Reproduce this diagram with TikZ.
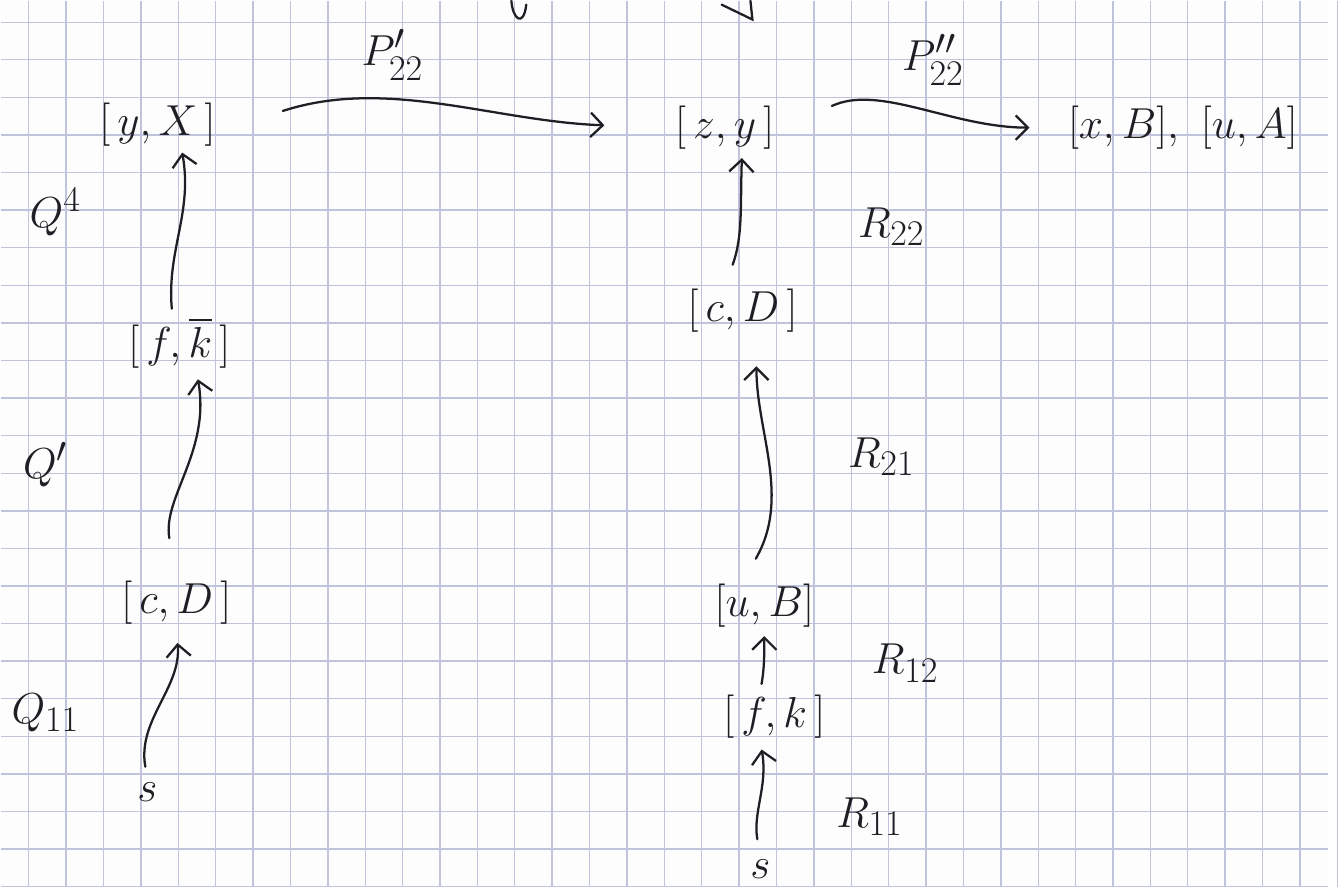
\documentclass[tikz,border=0pt]{standalone}
\usepackage{amsmath,amssymb}
\usepackage{xcolor}
\usepackage{tikz}
\usetikzlibrary{arrows.meta, positioning, calc}
\definecolor{inkcolor}{HTML}{1E1E24}
\definecolor{gridcolor}{HTML}{BFC3DC}
\definecolor{papercolor}{HTML}{FDFDFD}

\begin{document}
\begin{tikzpicture}[
  x=0.02cm, y=-0.02cm,
  term/.style={inner sep=2pt, text=inkcolor,
               font=\fontsize{28}{32}\selectfont},
  lbl/.style={inner sep=1pt, text=inkcolor,
              font=\fontsize{28}{32}\selectfont},
  gridline/.style={draw=gridcolor, line width=0.8pt},
  ink/.style={draw=inkcolor, line width=1.3pt, line cap=round},
  arrow/.style={ink, -{Straight Barb[length=7pt, width=14pt]}},
]

%% paper
\fill[papercolor] (0,0) rectangle (1338,894);
\foreach \i in {0,...,35}
  \draw[gridline] ({28.3+37.7*\i},0) -- ++(0,894);
\foreach \j in {0,...,23}
  \draw[gridline] (0,{21.7+37.9*\j}) -- ++(1338,0);
\useasboundingbox (0,0) rectangle (1338,894);

%% cut-off strokes at the top edge
\draw[ink] (515,0) .. controls (516,18) and (527,28) .. (530,4);
\draw[ink] (727,4) -- (758,19) -- (756,0);

%% top row
\node[term] (yX)   at (158,125)  {$[\,y,X\,]$};
\node[term] (zy)   at (730,128)  {$[\,z,y\,]$};
\node[term] (xBuA) at (1192,128) {$[x,B],\ [u,A]$};

%% left column
\node[term] (fk1) at (180,345) {$[\,f,\overline{k}\,]$};
\node[term] (cD1) at (177,607) {$[\,c,D\,]$};
\node[term] (s1)  at (148,798) {$s$};

%% right column
\node[term] (cD2) at (748,313) {$[\,c,D\,]$};
\node[term] (uB)  at (770,610) {$[u,B]$};
\node[term] (fk2) at (780,722) {$[\,f,k\,]$};
\node[term] (s2)  at (766,876) {$s$};

%% path labels
\node[lbl] (P1)  at (395,55)  {$P'_{22}$};
\node[lbl] (P2)  at (940,60)  {$P''_{22}$};
\node[lbl] (Q4)  at (55,213)  {$Q^{4}$};
\node[lbl] (Q1)  at (45,468)  {$Q'$};
\node[lbl] (Q11) at (45,718)  {$Q_{11}$};
\node[lbl] (R22) at (898,228) {$R_{22}$};
\node[lbl] (R21) at (888,460) {$R_{21}$};
\node[lbl] (R12) at (912,668) {$R_{12}$};
\node[lbl] (R11) at (876,823) {$R_{11}$};

%% arrows
\draw[arrow, shorten <=1.35cm, shorten >=1.35cm] ([yshift=-4pt]yX.east)
  to[out=18, in=178] (zy.west);
\draw[arrow, shorten <=1.2cm, shorten >=0.7cm] ([yshift=-2pt]zy.east)
  to[out=25, in=180] (xBuA.west);
\draw[arrow, shorten <=0.25cm, shorten >=0.3cm] (s1.north)
  to[out=100, in=-85] (cD1.south);
\draw[arrow, shorten <=0.8cm, shorten >=0.15cm] (cD1.south |- cD1.north)
  to[out=100, in=-80] ([xshift=10pt]fk1.south);
\draw[arrow, shorten <=0.1cm, shorten >=0.05cm] ([xshift=-4pt]fk1.north)
  to[out=95, in=-80] ([xshift=14pt]yX.south);
\draw[arrow, shorten <=0.35cm, shorten >=0.15cm] (s2.north)
  to[out=100, in=-80] (fk2.south -| s2.north);
\draw[arrow, shorten <=0.15cm, shorten >=0.1cm] ([xshift=-8pt]fk2.north)
  to[out=80, in=-90] (uB.south);
\draw[arrow, shorten <=0.5cm, shorten >=0.6cm] ([xshift=-12pt]uB.north)
  to[out=60, in=-90] ([xshift=8pt]cD2.south);
\draw[arrow, shorten <=0.45cm, shorten >=0.1cm] ([xshift=-10pt]cD2.north)
  to[out=70, in=-92] ([xshift=10pt]zy.south);

\end{tikzpicture}
\end{document}
